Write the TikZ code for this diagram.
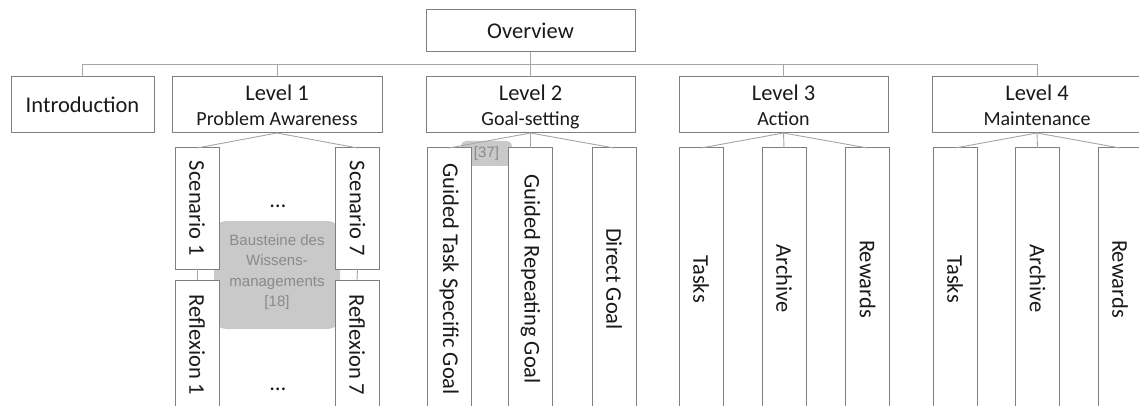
\documentclass[tikz,border=0pt]{standalone}
\usepackage{fontspec}
\setmainfont{Carlito}
\newfontfamily\notefont{Liberation Sans}
\definecolor{boxgray}{HTML}{7F7F7F}
\definecolor{wiregray}{HTML}{A6A6A6}
\definecolor{notegray}{HTML}{C9C9C9}
\definecolor{notetext}{HTML}{8A8A8A}
\definecolor{ink}{HTML}{1A1A1A}
\begin{document}
\begin{tikzpicture}[x=1pt,y=-1pt,
  box/.style={draw=boxgray, line width=1pt, fill=white, inner sep=0pt, outer sep=0pt},
  wire/.style={draw=wiregray, line width=0.9pt},
  note/.style={fill=notegray, draw=none, inner sep=0pt, outer sep=0pt},
  notelabel/.style={font=\notefont\fontsize{15}{20.5}\selectfont, text=notetext, inner sep=0pt},
  main/.style={font=\fontsize{22.5}{27}\selectfont, text=ink, inner sep=0pt},
  sub/.style={font=\fontsize{20}{24}\selectfont, text=ink, inner sep=0pt},
  vtext/.style={main, rotate=-90},
  levelbox/.style={box, minimum width=210pt, minimum height=56pt},
  tallbox/.style={box, minimum width=44pt, minimum height=262pt},
]
\useasboundingbox (0,0) rectangle (1139,406);
\clip (0,0) rectangle (1139,406);
\fill[white] (0,0) rectangle (1139,406);

% grey reference notes, lying behind the boxes
\node[note, rounded corners=12pt, minimum width=126pt, minimum height=108pt] (bst) at (277,275) {};
\node[notelabel, align=center] (bsttext) at (277,272) {Bausteine des\\Wissens-\\managements\\{}[18]};
\node[note, rounded corners=5pt, minimum width=51pt, minimum height=25pt] (ref) at (486.5,153.5) {};
\node[notelabel] (reftext) at (486.5,154) {[37]};

% top row
\node[box, minimum width=209pt, minimum height=42pt] (ov) at (530.5,31) {};
\node[box, minimum width=143pt, minimum height=56pt] (intro) at (82.5,105) {};
\node[levelbox] (L1) at (277,105) {};
\node[levelbox, minimum width=209pt] (L2) at (530.5,105) {};
\node[levelbox, minimum width=209pt] (L3) at (783.5,105) {};
\node[levelbox] (L4) at (1037,105) {};

\node[main, anchor=base] (ovt) at (530.5,39) {Overview};
\node[main, anchor=base] (introt) at (82.5,113) {Introduction};
\node[main, anchor=base] (L1a) at (277,100.5) {Level 1};
\node[sub,  anchor=base] (L1b) at (277,126) {Problem Awareness};
\node[main, anchor=base] (L2a) at (530.5,100.5) {Level 2};
\node[sub,  anchor=base] (L2b) at (530.5,126) {Goal-setting};
\node[main, anchor=base] (L3a) at (783.5,100.5) {Level 3};
\node[sub,  anchor=base] (L3b) at (783.5,126) {Action};
\node[main, anchor=base] (L4a) at (1037,100.5) {Level 4};
\node[sub,  anchor=base] (L4b) at (1037,126) {Maintenance};

% bus from the overview to the chapters
\coordinate (busy) at (0,64);
\draw[wire] (intro.north) -- (intro.north |- busy) -- (L4.north |- busy) -- (L4.north);
\draw[wire] (ov.south) -- (L2.north);
\draw[wire] (L1.north) -- (L1.north |- busy);
\draw[wire] (L3.north) -- (L3.north |- busy);

% level 1: scenarios and reflections
\node[box, minimum width=44pt, minimum height=121pt] (s1) at (197,208.5) {};
\node[box, minimum width=44pt, minimum height=130pt] (r1) at (197,345) {};
\node[box, minimum width=44pt, minimum height=121pt] (s7) at (357.5,208.5) {};
\node[box, minimum width=44pt, minimum height=130pt] (r7) at (357,345) {};
\node[vtext] (s1t) at (s1.center) {Scenario 1};
\node[vtext] (r1t) at (r1.center) {Reflexion 1};
\node[vtext] (s7t) at (s7.center) {Scenario 7};
\node[vtext] (r7t) at (r7.center) {Reflexion 7};
\node[main, anchor=base] (dots1) at (278,207) {\dots};
\node[main, anchor=base] (dots2) at (278,390) {\dots};
\draw[wire] (L1.south) -- (s1.north);
\draw[wire] (L1.south) -- (s7.north);
\draw[wire] (s1.south) -- (r1.north);
\draw[wire] (s7.south) -- (r7.north);

% level 2: goal types
\node[tallbox] (g1) at (449,279) {};
\node[tallbox] (g2) at (530.5,279) {};
\node[tallbox] (g3) at (614,279) {};
\node[vtext] (g1t) at (g1.center) {Guided Task Specific Goal};
\node[vtext] (g2t) at (g2.center) {Guided Repeating Goal};
\node[vtext] (g3t) at (g3.center) {Direct Goal};
\draw[wire] (L2.south) -- (g1.north);
\draw[wire] (L2.south) -- (g2.north);
\draw[wire] (L2.south) -- (g3.north);

% level 3: action
\node[tallbox] (a1) at (701,279) {};
\node[tallbox] (a2) at (784,279) {};
\node[tallbox] (a3) at (867.5,279) {};
\node[vtext] (a1t) at (a1.center) {Tasks};
\node[vtext] (a2t) at (a2.center) {Archive};
\node[vtext] (a3t) at (a3.center) {Rewards};
\draw[wire] (L3.south) -- (a1.north);
\draw[wire] (L3.south) -- (a2.north);
\draw[wire] (L3.south) -- (a3.north);

% level 4: maintenance
\node[tallbox] (m1) at (955,279) {};
\node[tallbox] (m2) at (1037.5,279) {};
\node[tallbox] (m3) at (1120,279) {};
\node[vtext] (m1t) at (m1.center) {Tasks};
\node[vtext] (m2t) at (m2.center) {Archive};
\node[vtext] (m3t) at (m3.center) {Rewards};
\draw[wire] (L4.south) -- (m1.north);
\draw[wire] (L4.south) -- (m2.north);
\draw[wire] (L4.south) -- (m3.north);
\end{tikzpicture}
\end{document}
